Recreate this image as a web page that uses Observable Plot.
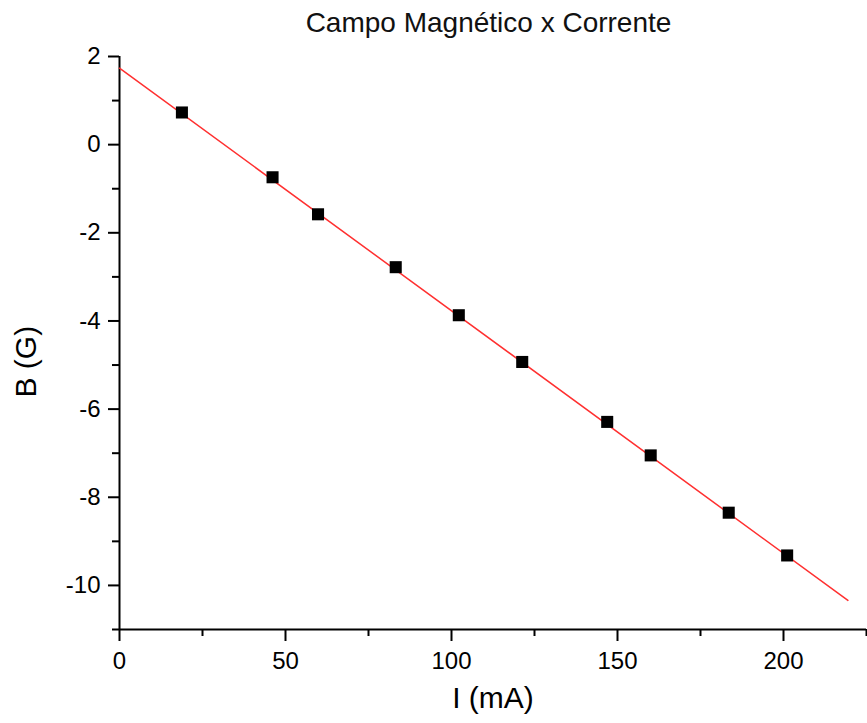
<!DOCTYPE html>
<html><head><meta charset="utf-8">
<script src="https://cdn.jsdelivr.net/npm/d3@7"></script>
<script src="https://cdn.jsdelivr.net/npm/@observablehq/plot@0.6"></script>
<style>
body{margin:0;background:#fff;font-family:"Liberation Sans",Arial,sans-serif;}
#title{height:36px;line-height:36px;font-size:28px;text-align:center;padding-left:110px;box-sizing:border-box;width:867px;color:#111;overflow:visible;}
#title span{position:relative;top:5px;}
</style></head><body>
<div id="title"><span>Campo Magnético x Corrente</span></div>
<div id="chart"></div>
<script>
const correnteMA = [18.8, 46.1, 59.8, 83.2, 102.2, 121.3, 146.9, 160.0, 183.5, 201.1];
const campoG = [0.73, -0.74, -1.58, -2.78, -3.87, -4.93, -6.29, -7.05, -8.35, -9.32];
const fitI = [0, 219.4];
const fitB = [1.735, -10.34];
const xDomain = [0, 225];
const yDomain = [-11, 2];
const xMajor = [0, 50, 100, 150, 200];
const xMinor = [25, 75, 125, 175, 225];
const yMajor = [2, 0, -2, -4, -6, -8, -10];
const yMinor = [1, -1, -3, -5, -7, -9, -11];
const xLabel = "I (mA)";
const yLabel = "B (G)";

const points = correnteMA.map((x, i) => ({x, y: campoG[i]}));
const fit = fitI.map((x, i) => ({x, y: fitB[i]}));
const fmt = d => String(d);

const chart = Plot.plot({
  width: 867,
  height: 687,
  marginLeft: 119,
  marginRight: 1,
  marginTop: 20,
  marginBottom: 94,
  style: {fontFamily: '"Liberation Sans", Arial, sans-serif', background: "white", color: "black", overflow: "visible"},
  x: {domain: xDomain},
  y: {domain: yDomain},
  marks: [
    Plot.ruleY([yDomain[0]], {stroke: "black", strokeWidth: 2}),
    Plot.ruleX([xDomain[0]], {stroke: "black", strokeWidth: 2}),
    Plot.line(fit, {x: "x", y: "y", stroke: "#ff3030", strokeWidth: 1.5}),
    Plot.dot(points, {x: "x", y: "y", symbol: "square", r: 6.8, fill: "black", stroke: null}),
    Plot.axisX({ticks: xMajor, tickSize: 12, tickPadding: 10, fontSize: 24, tickFormat: fmt, strokeWidth: 2, label: null}),
    Plot.axisX({ticks: xMinor, tickSize: 7, text: null, label: null, strokeWidth: 2}),
    Plot.axisY({ticks: yMajor, tickSize: 11, tickPadding: 8, fontSize: 24, tickFormat: fmt, strokeWidth: 2, label: null}),
    Plot.axisY({ticks: yMinor, tickSize: 7, text: null, label: null, strokeWidth: 2}),
    Plot.text([xLabel], {text: d => d, frameAnchor: "bottom", dy: 78, fontSize: 30}),
    Plot.text([yLabel], {text: d => d, frameAnchor: "bottom-left", textAnchor: "start", dx: -84, dy: -232, rotate: -90, fontSize: 30})
  ]
});
document.getElementById("chart").appendChild(chart);
</script>
</body></html>
